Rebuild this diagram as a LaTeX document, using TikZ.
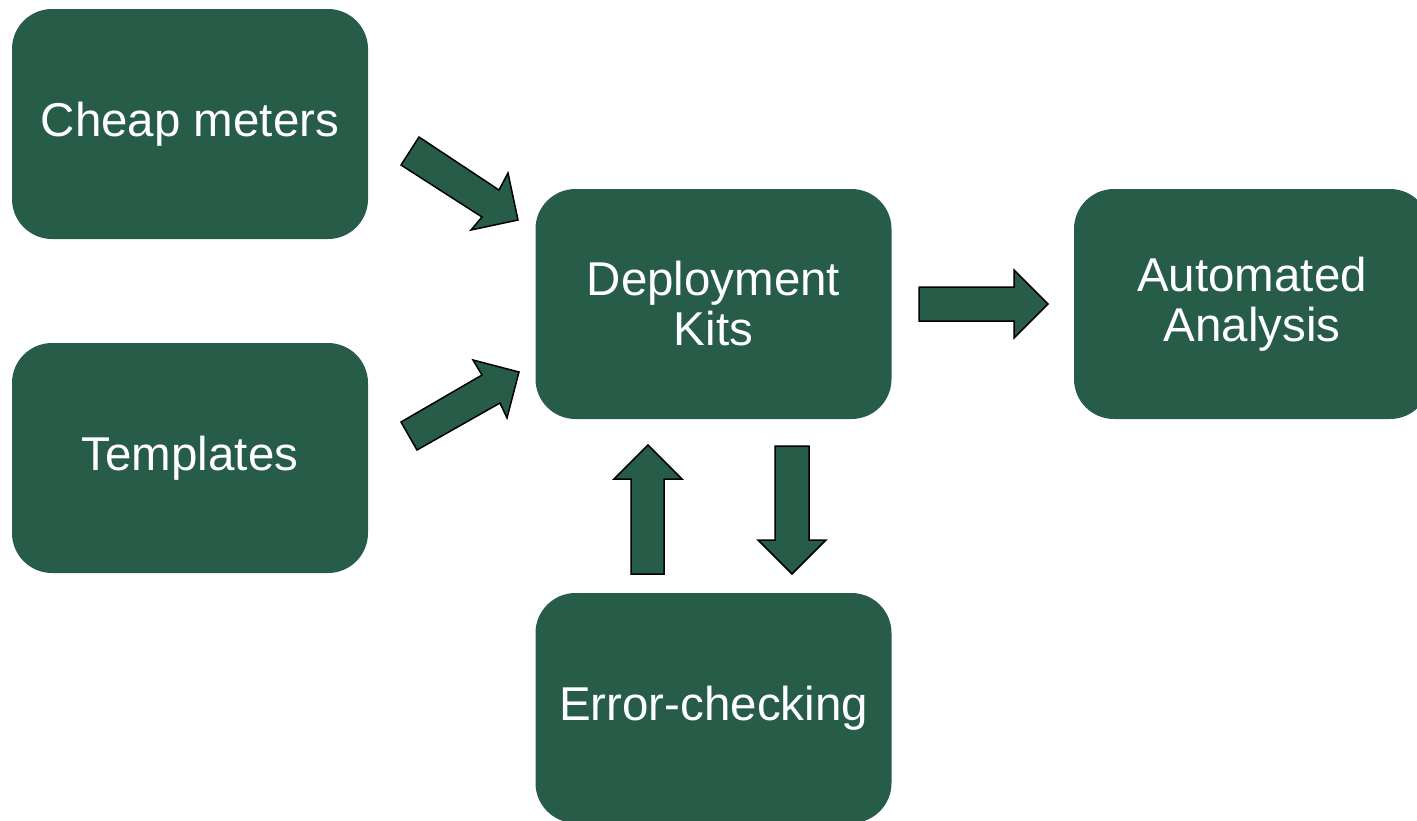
\documentclass[tikz,border=0pt]{standalone}
\usepackage{fontspec}
\setmainfont{Liberation Sans}
\definecolor{boxgreen}{RGB}{38,92,72}
\begin{document}
\begin{tikzpicture}[x=1pt,y=-1pt,
  box/.style={draw=none,fill=boxgreen,rounded corners=40pt,minimum width=356pt,minimum height=230pt,
    inner sep=0pt,text=white,align=center,font=\fontsize{47.5}{50}\selectfont},
  blockarrow/.style={fill=boxgreen,draw=black,line width=1.5pt,line join=miter}]
\useasboundingbox (0,0) rectangle (1417,820);
\clip (0,0) rectangle (1417,820);
\node[box] (cheap) at (190,124) {Cheap meters};
\node[box] (templ) at (190,458) {Templates};
\node[box] (kits) at (713.5,304) {Deployment\\Kits};
\node[box] (auto) at (1252,304) {Automated\\Analysis};
\node[box] (err) at (713.5,708) {Error-checking};
% cheap -> kits
\draw[blockarrow] (419,137) -- (499,190) -- (508,173) -- (518,220) -- (471,230) -- (482,217) -- (401,165) -- cycle;
% templates -> kits
\draw[blockarrow] (401,422) -- (482,375) -- (473,360) -- (519,372) -- (507,418) -- (500,403) -- (417,450) -- cycle;
% kits -> automated
\draw[blockarrow] (919,287) -- (1014,287) -- (1014,270) -- (1048,304) -- (1014,338) -- (1014,321) -- (919,321) -- cycle;
% error -> kits (up)
\draw[blockarrow] (631,574) -- (631,479) -- (614,479) -- (648,445) -- (682,479) -- (664,479) -- (664,574) -- cycle;
% kits -> error (down)
\draw[blockarrow] (775,446) -- (809,446) -- (809,540) -- (826,540) -- (792,574) -- (758,540) -- (775,540) -- cycle;
\end{tikzpicture}
\end{document}
